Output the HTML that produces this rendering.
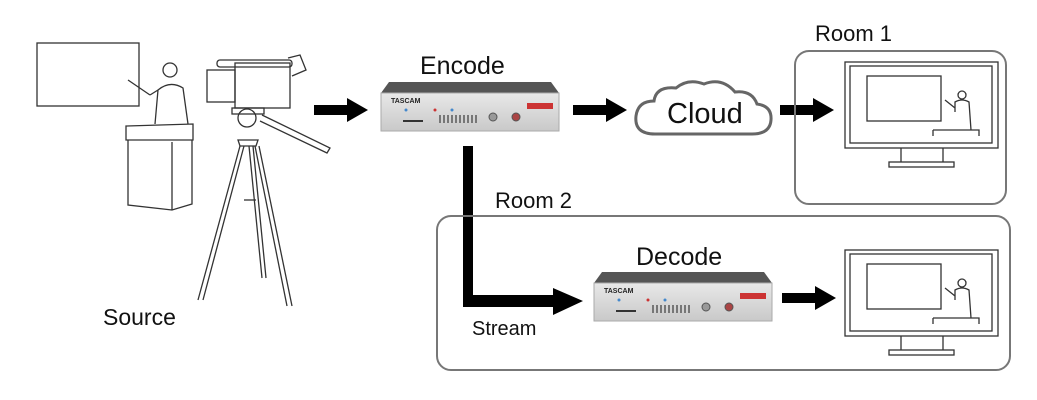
<!DOCTYPE html>
<html><head><style>
html,body{margin:0;padding:0;background:#fff;}
svg{display:block;}
text{font-family:"Liberation Sans",sans-serif;fill:#111;}
</style></head><body>
<svg width="1037" height="400" viewBox="0 0 1037 400" xmlns="http://www.w3.org/2000/svg">
<defs>
<linearGradient id="dev" x1="0" y1="0" x2="0" y2="1">
<stop offset="0" stop-color="#e8e8e8"/><stop offset="1" stop-color="#c9c9c9"/>
</linearGradient>
<g id="device">
<path d="M8,0 L170,0 L178,11 L0,11 Z" fill="#555"/>
<rect x="0" y="11" width="178" height="38" fill="url(#dev)" stroke="#aaa"/>
<text x="10" y="21" font-size="7" font-weight="bold" style="fill:#222">TASCAM</text>
<rect x="146" y="21" width="26" height="6" fill="#c33"/>
<rect x="22" y="38" width="20" height="2" fill="#333"/>
<g fill="#777"><rect x="58" y="33" width="2" height="8"/><rect x="62" y="33" width="2" height="8"/><rect x="66" y="33" width="2" height="8"/><rect x="70" y="33" width="2" height="8"/><rect x="74" y="33" width="2" height="8"/><rect x="78" y="33" width="2" height="8"/><rect x="82" y="33" width="2" height="8"/><rect x="86" y="33" width="2" height="8"/><rect x="90" y="33" width="2" height="8"/><rect x="94" y="33" width="2" height="8"/></g>
<circle cx="25" cy="28" r="1.5" fill="#48c"/><circle cx="54" cy="28" r="1.5" fill="#c33"/><circle cx="71" cy="28" r="1.5" fill="#48c"/>
<circle cx="112" cy="35" r="4" fill="#999" stroke="#555"/><circle cx="135" cy="35" r="4" fill="#a44" stroke="#555"/>
</g>
<g id="monitor" fill="none" stroke="#333" stroke-width="1.3">
<rect x="0" y="0" width="153" height="86"/>
<rect x="5" y="4" width="142" height="77"/>
<rect x="22" y="14" width="74" height="45"/>
<line x1="56" y1="86" x2="56" y2="100"/><line x1="98" y1="86" x2="98" y2="100"/>
<rect x="44" y="100" width="65" height="5"/>
<circle cx="117" cy="33" r="4"/>
<path d="M110,50 L110,40 Q117,36 124,40 L126,68 M100,38 L110,46 M88,68 L134,68 L134,74 M88,68 L88,74"/>
</g>
<g id="arrow"><path d="M0,-5 L33,-5 L33,-12 L54,0 L33,12 L33,5 L0,5 Z" fill="#000"/></g>
</defs>

<!-- Source -->
<g fill="none" stroke="#333" stroke-width="1.3">
<rect x="37" y="43" width="102" height="63"/>
<path d="M126,126 L193,124 L193,140 L126,140 Z"/>
<path d="M128,140 L128,205 L172,210 L192,204 L192,140 M172,142 L172,210"/>
<circle cx="170" cy="70" r="7"/>
<path d="M155,124 L158,90 Q170,80 183,88 L188,124 M150,95 L128,80 M158,90 L150,95"/>
<rect x="207" y="70" width="28" height="32"/>
<rect x="235" y="63" width="55" height="45"/>
<rect x="217" y="60" width="75" height="7" rx="3"/>
<path d="M288,58 L300,55 L306,70 L292,76"/>
<circle cx="247" cy="118" r="9"/>
<rect x="232" y="108" width="32" height="6"/>
<path d="M262,115 L330,148 L327,153 L260,121"/>
<path d="M238,140 L258,140 L256,146 L240,146 Z"/>
<path d="M240,146 L198,300 M244,146 L203,300 M249,146 L262,278 M253,146 L266,278 M255,146 L287,306 M259,146 L292,306"/>
<path d="M244,200 L256,200"/>
</g>
<text x="103" y="325" font-size="23">Source</text>

<!-- arrows -->
<use href="#arrow" x="314" y="110"/>
<use href="#arrow" x="573" y="110"/>
<use href="#arrow" x="780" y="110"/>
<use href="#arrow" x="782" y="298"/>

<!-- Encode -->
<text x="420" y="74" font-size="25">Encode</text>
<use href="#device" x="381" y="82"/>

<!-- Stream path -->
<path d="M463,146 L473,146 L473,295 L553,295 L553,288 L583,301 L553,315 L553,307 L463,307 Z" fill="#000"/>
<text x="472" y="335" font-size="20">Stream</text>

<!-- Cloud -->
<path d="M655,134 Q634,134 636,116 Q638,101 654,101 Q656,86 676,88 Q688,78 704,84 Q722,77 735,92 Q752,90 757,104 Q772,106 771,120 Q770,134 752,134 Z" fill="#fff" stroke="#666" stroke-width="3"/>
<text x="667" y="123" font-size="29">Cloud</text>

<!-- Room 1 -->
<text x="815" y="41" font-size="22">Room 1</text>
<rect x="795" y="51" width="211" height="153" rx="14" fill="none" stroke="#777" stroke-width="2"/>
<use href="#monitor" x="845" y="62"/>

<!-- Room 2 -->
<text x="495" y="208" font-size="22">Room 2</text>
<rect x="437" y="216" width="573" height="154" rx="14" fill="none" stroke="#777" stroke-width="2"/>
<text x="636" y="265" font-size="25">Decode</text>
<use href="#device" x="594" y="272"/>
<use href="#monitor" x="845" y="250"/>
</svg>
</body></html>
